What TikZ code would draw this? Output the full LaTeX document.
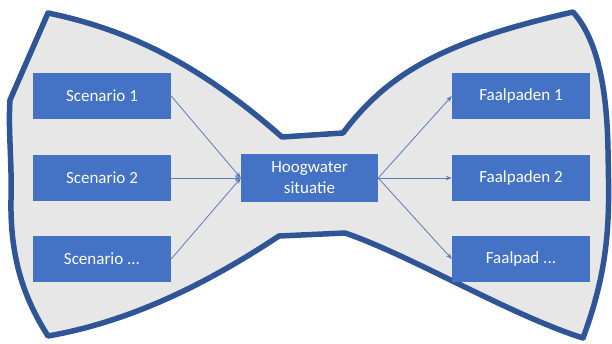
\documentclass[tikz,border=0pt]{standalone}
\usepackage{fontspec}
\setmainfont{Carlito}
\usetikzlibrary{arrows.meta}
\definecolor{boxblue}{HTML}{4472C4}
\definecolor{outline}{HTML}{2F5597}
\definecolor{bowfill}{HTML}{E8E7E7}
\definecolor{conn}{HTML}{5A7BB5}
\begin{document}
\begin{tikzpicture}[x=1pt,y=-1pt,
  bbox/.style={fill=boxblue,draw=none,minimum width=138pt,minimum height=46pt,
    inner sep=0pt,text=white,font=\fontsize{17}{21}\selectfont,align=center},
  conn/.style={draw=conn,line width=0.8pt,-{Stealth[length=6pt,width=4.5pt]}}]
\useasboundingbox (0,0) rectangle (612,343);
\fill[white] (0,0) rectangle (612,343);
\draw[outline,fill=bowfill,line width=5.5pt,line join=round]
  (48,13) .. controls (130,30) and (200,65) .. (282,137)
  -- (343,133) .. controls (390,70) and (450,40) .. (573,12)
  .. controls (598,40) and (607,90) .. (608,150)
  .. controls (609,210) and (612,260) .. (583,338)
  .. controls (510,315) and (410,255) .. (345,233)
  -- (279,236) .. controls (220,275) and (140,320) .. (48,336)
  .. controls (25,300) and (10,260) .. (11,200)
  .. controls (12,160) and (8,130) .. (10,100)
  -- cycle;
\node[bbox] (s1) at (102,96) {Scenario 1};
\node[bbox] (s2) at (102,178) {Scenario 2};
\node[bbox] (s3) at (102,259) {Scenario ...};
\node[bbox,minimum width=137pt,minimum height=48pt] (h) at (309.5,178) {Hoogwater\\situatie};
\node[bbox] (f1) at (521,96) {Faalpaden 1};
\node[bbox] (f2) at (521,178) {Faalpaden 2};
\node[bbox] (f3) at (521,259) {Faalpad ...};
\draw[conn] (s1.east) -- (h.west);
\draw[conn] (s2.east) -- (h.west);
\draw[conn] (s3.east) -- (h.west);
\draw[conn] (h.east) -- (f1.west);
\draw[conn] (h.east) -- (f2.west);
\draw[conn] (h.east) -- (f3.west);
\end{tikzpicture}
\end{document}
